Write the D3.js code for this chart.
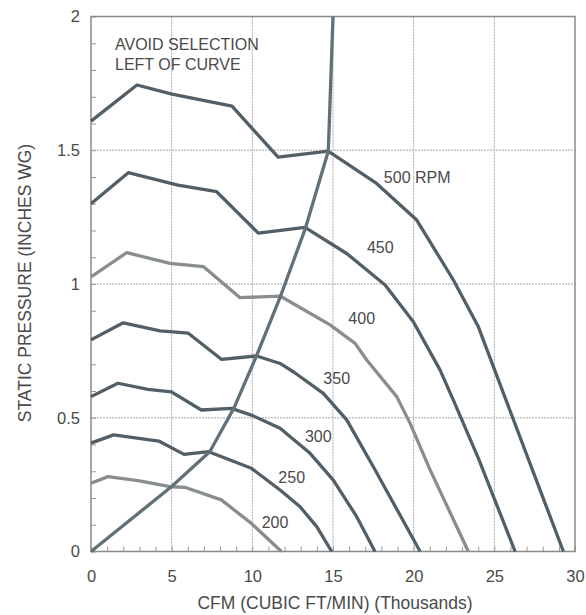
<!DOCTYPE html>
<html>
<head>
<meta charset="utf-8">
<script src="https://cdn.jsdelivr.net/npm/d3@7"></script>
<style>
  html, body { margin: 0; padding: 0; background: #fff; }
  svg { display: block; }
  text { font-family: "Liberation Sans", Arial, sans-serif; fill: #4a4a4a; }
</style>
</head>
<body>
<svg id="chart" width="586" height="615"></svg>
<script>
// ---- data (CFM in thousands, static pressure in inches WG) ----
const rpm500 = [[0,1.609],[2.85,1.744],[5.02,1.71],[8.74,1.665],[11.6,1.474],[14.7,1.497],[17.7,1.376],[20.19,1.239],[22.46,1.015],[24.01,0.84],[24.94,0.691],[29.28,0]];
const rpm450 = [[0,1.30],[2.31,1.416],[5.39,1.37],[7.79,1.345],[10.37,1.19],[13.26,1.212],[15.85,1.114],[18.23,0.996],[19.98,0.859],[21.64,0.678],[22.46,0.566],[24.0,0.35],[26.29,0]];
const rpm400 = [[0,1.027],[2.21,1.117],[4.9,1.077],[6.96,1.065],[9.24,0.949],[11.72,0.955],[14.82,0.847],[16.37,0.778],[17.09,0.716],[18.95,0.579],[19.78,0.479],[21.02,0.305],[23.39,0]];
const rpm350 = [[0,0.791],[2.0,0.855],[4.28,0.825],[6.03,0.816],[8.1,0.718],[10.27,0.731],[11.72,0.703],[12.54,0.672],[14.4,0.591],[15.85,0.492],[17.5,0.317],[20.4,0]];
const rpm300 = [[0,0.579],[1.67,0.629],[3.53,0.606],[4.98,0.597],[6.84,0.529],[8.7,0.535],[9.94,0.51],[11.72,0.461],[13.58,0.367],[15.02,0.267],[16.47,0.13],[17.6,0]];
const rpm250 = [[0,0.405],[1.4,0.436],[4.2,0.413],[5.77,0.363],[7.3,0.373],[9.94,0.311],[11.72,0.23],[12.96,0.167],[13.99,0.093],[14.92,0]];
const rpm200 = [[0,0.255],[1.05,0.28],[2.91,0.265],[4.98,0.242],[5.81,0.24],[8.08,0.193],[9.94,0.105],[11.8,0]];
const surgeLine = [[0,0],[4.98,0.242],[7.36,0.373],[8.85,0.535],[10.27,0.733],[11.75,0.955],[13.3,1.21],[14.71,1.497],[15.0,2.0]];

const rpmNames = ["500 RPM","450","400","350","300","250","200"];
const rpmShade = ["dark","dark","light","dark","dark","dark","light"];
// label anchor points (data coordinates)
const labelCfm = [20.22,17.93,16.78,15.23,14.09,12.44,11.41];
const labelSp  = [1.376,1.117,0.850,0.626,0.410,0.255,0.087];

const xTicks = [0,5,10,15,20,25,30];
const yTicks = [0,0.5,1,1.5,2];
const yTickLabels = ["0","0.5","1","1.5","2"];
const noteLines = ["AVOID SELECTION","LEFT OF CURVE"];
const xTitle = "CFM (CUBIC FT/MIN) (Thousands)";
const yTitle = "STATIC PRESSURE (INCHES WG)";

// ---- drawing ----
const series = [rpm500, rpm450, rpm400, rpm350, rpm300, rpm250, rpm200];
const svg = d3.select("#chart");
const L = 91, R = 575, T = 16.5, B = 551.5;
const x = d3.scaleLinear().domain([0,30]).range([L,R]);
const y = d3.scaleLinear().domain([0,2]).range([B,T]);

// gridlines
const grid = svg.append("g");
grid.selectAll(".vg").data(xTicks.filter(v => v > 0 && v < 30)).join("line")
  .attr("x1", d => x(d)).attr("x2", d => x(d)).attr("y1", T).attr("y2", B)
  .attr("stroke", "#a9a9a9").attr("stroke-width", 1).attr("stroke-dasharray", "2,1");
grid.selectAll(".hg").data(yTicks.filter(v => v > 0 && v < 2)).join("line")
  .attr("x1", L).attr("x2", R).attr("y1", d => y(d)).attr("y2", d => y(d))
  .attr("stroke", "#c4c4c4").attr("stroke-width", 1.6).attr("stroke-dasharray", "2,1");

// minor ticks via axes (inside)
const minorX = d3.range(0, 31, 1);
const minorY = d3.range(0, 2.01, 0.1);
const axB = svg.append("g").attr("transform", `translate(0,${B})`)
  .call(d3.axisBottom(x).tickValues(minorX).tickSize(-5).tickFormat(""));
const axL = svg.append("g").attr("transform", `translate(${L},0)`)
  .call(d3.axisLeft(y).tickValues(minorY).tickSize(-5).tickFormat(""));
[axB, axL].forEach(a => {
  a.select(".domain").remove();
  a.selectAll(".tick line").attr("stroke", "#9a9a9a").attr("stroke-width", 1);
});

// frame
svg.append("rect").attr("x", L).attr("y", T).attr("width", R - L).attr("height", B - T)
  .attr("fill", "none").attr("stroke", "#8a8a8a").attr("stroke-width", 1.5);

// tick labels
const xl = svg.append("g").attr("transform", `translate(0,${B})`)
  .call(d3.axisBottom(x).tickValues(xTicks).tickSize(0).tickPadding(19).tickFormat(d3.format("d")));
xl.select(".domain").remove();
xl.selectAll("text").attr("font-size", "16.5px").attr("fill", "#4a4a4a")
  .attr("font-family", '"Liberation Sans", Arial, sans-serif');
const yl = svg.append("g").attr("transform", `translate(${L},0)`)
  .call(d3.axisLeft(y).tickValues(yTicks).tickSize(0).tickPadding(11).tickFormat((d,i) => yTickLabels[i]));
yl.select(".domain").remove();
yl.selectAll("text").attr("font-size", "16.5px").attr("fill", "#4a4a4a")
  .attr("font-family", '"Liberation Sans", Arial, sans-serif');

// curves
const line = d3.line().x(d => x(d[0])).y(d => y(d[1]));
svg.append("g").selectAll("path").data(series).join("path")
  .attr("d", line).attr("fill", "none")
  .attr("stroke", (d,i) => rpmShade[i] === "dark" ? "#535f66" : "#888d90")
  .attr("stroke-width", 3.3).attr("stroke-linejoin", "round");

svg.append("path").datum(surgeLine).attr("d", line).attr("fill", "none")
  .attr("stroke", "#627077").attr("stroke-width", 3.3).attr("stroke-linejoin", "round");

// curve labels
svg.append("g").selectAll("text").data(rpmNames).join("text")
  .attr("x", (d,i) => x(labelCfm[i])).attr("y", (d,i) => y(labelSp[i]))
  .attr("text-anchor", "middle").attr("font-size", "16px").attr("fill", "#4a4a4a")
  .text(d => d);

// note
svg.append("g").selectAll("text").data(noteLines).join("text")
  .attr("x", 115).attr("y", (d,i) => 50 + i * 20)
  .attr("font-size", "16px").attr("fill", "#4a4a4a").text(d => d);

// axis titles
svg.append("text").attr("x", 335).attr("y", 609)
  .attr("text-anchor", "middle").attr("font-size", "17.5px").attr("fill", "#4a4a4a").text(xTitle);
svg.append("text").attr("transform", `translate(31,283) rotate(-90)`)
  .attr("text-anchor", "middle").attr("font-size", "17.5px").attr("fill", "#4a4a4a").text(yTitle);
</script>
</body>
</html>
